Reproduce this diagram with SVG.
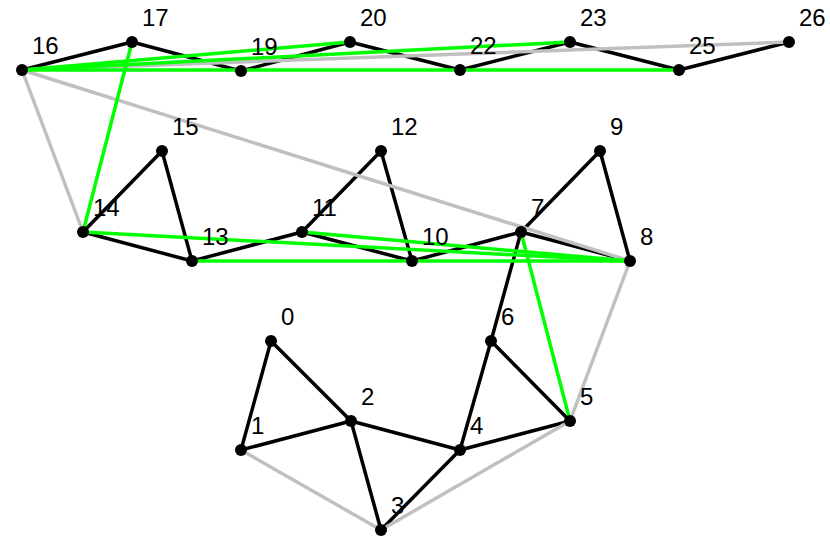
<svg xmlns="http://www.w3.org/2000/svg" width="830" height="553" viewBox="0 0 830 553">
<style>
.e{stroke-width:3.5;stroke-linecap:round;fill:none}
.k{stroke:#000}
.g{stroke:#c0c0c0}
.v{stroke:#00ff00}
.n circle{fill:#000}
.n text{font-family:"Liberation Sans",Arial,sans-serif;font-size:24px;fill:#000}
</style>
<rect width="830" height="553" fill="#fff"/>
<g id="connectors">
<line class="e k" x1="271" y1="341" x2="241" y2="450"/>
<line class="e k" x1="271" y1="341" x2="351" y2="421"/>
<line class="e k" x1="241" y1="450" x2="351" y2="421"/>
<line class="e k" x1="351" y1="421" x2="381" y2="530"/>
<line class="e k" x1="351" y1="421" x2="460" y2="450"/>
<line class="e k" x1="381" y1="530" x2="460" y2="450"/>
<line class="e k" x1="460" y1="450" x2="570" y2="421"/>
<line class="e k" x1="460" y1="450" x2="491" y2="341"/>
<line class="e k" x1="570" y1="421" x2="491" y2="341"/>
<line class="e k" x1="491" y1="341" x2="521" y2="232"/>
<line class="e k" x1="521" y1="232" x2="600" y2="151"/>
<line class="e k" x1="521" y1="232" x2="630" y2="261"/>
<line class="e k" x1="600" y1="151" x2="630" y2="261"/>
<line class="e k" x1="521" y1="232" x2="412" y2="261"/>
<line class="e k" x1="412" y1="261" x2="302" y2="232"/>
<line class="e k" x1="412" y1="261" x2="381" y2="151"/>
<line class="e k" x1="302" y1="232" x2="381" y2="151"/>
<line class="e k" x1="302" y1="232" x2="192" y2="261"/>
<line class="e k" x1="192" y1="261" x2="83" y2="232"/>
<line class="e k" x1="192" y1="261" x2="162" y2="151"/>
<line class="e k" x1="83" y1="232" x2="162" y2="151"/>
<line class="e k" x1="22" y1="70" x2="132" y2="42"/>
<line class="e k" x1="132" y1="42" x2="241" y2="71"/>
<line class="e k" x1="241" y1="71" x2="350" y2="42"/>
<line class="e k" x1="350" y1="42" x2="460" y2="70"/>
<line class="e k" x1="460" y1="70" x2="570" y2="42"/>
<line class="e k" x1="570" y1="42" x2="679" y2="70"/>
<line class="e k" x1="679" y1="70" x2="789" y2="42"/>
<line class="e g" x1="241" y1="450" x2="381" y2="530"/>
<line class="e g" x1="381" y1="530" x2="570" y2="421"/>
<line class="e g" x1="570" y1="421" x2="630" y2="261"/>
<line class="e g" x1="22" y1="70" x2="630" y2="261"/>
<line class="e g" x1="22" y1="70" x2="83" y2="232"/>
<line class="e g" x1="22" y1="70" x2="789" y2="42"/>
<line class="e v" x1="521" y1="232" x2="570" y2="421"/>
<line class="e v" x1="83" y1="232" x2="630" y2="261"/>
<line class="e v" x1="302" y1="232" x2="630" y2="261"/>
<line class="e v" x1="192" y1="261" x2="630" y2="261"/>
<line class="e v" x1="83" y1="232" x2="132" y2="42"/>
<line class="e v" x1="22" y1="70" x2="350" y2="42"/>
<line class="e v" x1="22" y1="70" x2="570" y2="42"/>
<line class="e v" x1="22" y1="70" x2="679" y2="70"/>
</g>
<g id="n0" class="n"><circle cx="271" cy="341" r="6"/><text x="281" y="325">0</text></g>
<g id="n1" class="n"><circle cx="241" cy="450" r="6"/><text x="251" y="434">1</text></g>
<g id="n2" class="n"><circle cx="351" cy="421" r="6"/><text x="361" y="405">2</text></g>
<g id="n3" class="n"><circle cx="381" cy="530" r="6"/><text x="391" y="514">3</text></g>
<g id="n4" class="n"><circle cx="460" cy="450" r="6"/><text x="470" y="434">4</text></g>
<g id="n5" class="n"><circle cx="570" cy="421" r="6"/><text x="580" y="405">5</text></g>
<g id="n6" class="n"><circle cx="491" cy="341" r="6"/><text x="501" y="325">6</text></g>
<g id="n7" class="n"><circle cx="521" cy="232" r="6"/><text x="531" y="216">7</text></g>
<g id="n8" class="n"><circle cx="630" cy="261" r="6"/><text x="640" y="245">8</text></g>
<g id="n9" class="n"><circle cx="600" cy="151" r="6"/><text x="610" y="135">9</text></g>
<g id="n10" class="n"><circle cx="412" cy="261" r="6"/><text x="422" y="245">10</text></g>
<g id="n11" class="n"><circle cx="302" cy="232" r="6"/><text x="312" y="216">11</text></g>
<g id="n12" class="n"><circle cx="381" cy="151" r="6"/><text x="391" y="135">12</text></g>
<g id="n13" class="n"><circle cx="192" cy="261" r="6"/><text x="202" y="245">13</text></g>
<g id="n14" class="n"><circle cx="83" cy="232" r="6"/><text x="93" y="216">14</text></g>
<g id="n15" class="n"><circle cx="162" cy="151" r="6"/><text x="172" y="135">15</text></g>
<g id="n16" class="n"><circle cx="22" cy="70" r="6"/><text x="32" y="54">16</text></g>
<g id="n17" class="n"><circle cx="132" cy="42" r="6"/><text x="142" y="26">17</text></g>
<g id="n19" class="n"><circle cx="241" cy="71" r="6"/><text x="251" y="55">19</text></g>
<g id="n20" class="n"><circle cx="350" cy="42" r="6"/><text x="360" y="26">20</text></g>
<g id="n22" class="n"><circle cx="460" cy="70" r="6"/><text x="470" y="54">22</text></g>
<g id="n23" class="n"><circle cx="570" cy="42" r="6"/><text x="580" y="26">23</text></g>
<g id="n25" class="n"><circle cx="679" cy="70" r="6"/><text x="689" y="54">25</text></g>
<g id="n26" class="n"><circle cx="789" cy="42" r="6"/><text x="799" y="26">26</text></g>
</svg>
